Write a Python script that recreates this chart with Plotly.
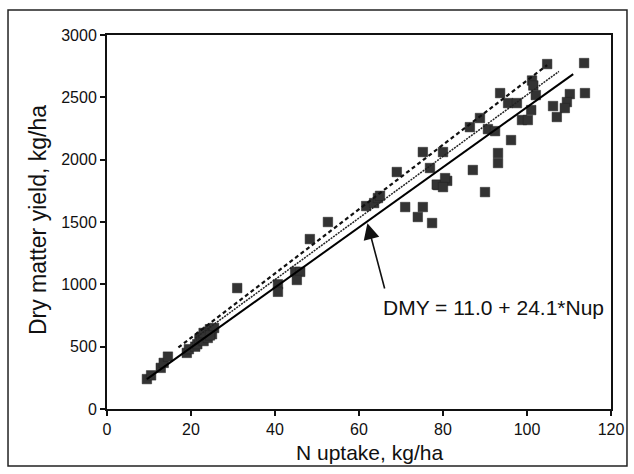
import plotly.graph_objects as go

# Observed data (N uptake kg/ha, dry matter yield kg/ha)
n_uptake = [9.5, 10.5, 12.8, 13.5, 14.5, 19.0, 19.5, 21.0,
            21.5, 22.0, 22.5, 23.0, 23.5, 24.0, 24.0, 24.5, 25.0, 25.5, 23.0, 24.5,
            31.0, 40.7, 40.7, 44.8, 46.0, 45.2, 48.3, 52.6,
            61.7, 63.6, 64.5, 65.0, 69.0, 75.2, 80.0, 76.9, 78.8, 78.5, 81.0, 80.5, 80.0,
            71.0, 75.2, 74.0, 77.4,
            104.8, 113.6, 101.2, 101.5, 93.6, 102.1, 110.2, 113.8, 95.5, 97.6, 101.0,
            106.2, 109.5, 109.0, 107.1, 98.8, 100.2, 88.8, 86.4, 90.7, 92.4, 96.2,
            93.1, 93.1, 87.1, 90.0]
dm_yield = [240, 270, 330, 370, 420, 450, 480, 500,
            520, 560, 580, 545, 600, 570, 620, 640, 600, 650, 610, 590,
            970, 1000, 940, 1100, 1100, 1035, 1363, 1500,
            1628, 1652, 1692, 1710, 1901, 2061, 2061, 1933, 1796, 1800, 1830, 1852, 1780,
            1620, 1620, 1540, 1492,
            2767, 2775, 2635, 2595, 2534, 2518, 2526, 2534, 2454, 2454, 2398,
            2430, 2462, 2414, 2342, 2318, 2318, 2334, 2261, 2245, 2229, 2157,
            2053, 1973, 1917, 1740]

# Regression lines
fit_intercept, fit_slope = 11.0, 24.1
fit_x = [9.5, 111.0]
dash_intercept, dash_slope = 55.0, 25.8
dash_x = [17.0, 104.8]
dot_intercept, dot_slope = 50.0, 24.7
dot_x = [21.0, 107.6]

x_ticks = [0, 20, 40, 60, 80, 100, 120]
y_ticks = [0, 500, 1000, 1500, 2000, 2500, 3000]

fig = go.Figure()
fig.add_trace(go.Scatter(
    x=n_uptake, y=dm_yield, mode="markers",
    marker=dict(symbol="square", size=9.5, color="#333333",
                line=dict(width=0.5, color="#222222")),
    showlegend=False, hoverinfo="skip"))
fig.add_trace(go.Scatter(
    x=dash_x, y=[dash_intercept + dash_slope * v for v in dash_x],
    mode="lines", line=dict(color="#111111", width=2.2, dash="4px,3px"),
    showlegend=False))
fig.add_trace(go.Scatter(
    x=dot_x, y=[dot_intercept + dot_slope * v for v in dot_x],
    mode="lines", line=dict(color="#222222", width=1.5, dash="2px,1px"),
    showlegend=False))
fig.add_trace(go.Scatter(
    x=fit_x, y=[fit_intercept + fit_slope * v for v in fit_x],
    mode="lines", line=dict(color="#000000", width=2),
    showlegend=False))

font_main = "Liberation Sans, Arial, Helvetica, sans-serif"

fig.add_annotation(x=62.0, y=1490, ax=66.2, ay=954, xref="x", yref="y",
                   axref="x", ayref="y", text="", showarrow=True,
                   arrowhead=2, arrowsize=2, arrowwidth=1.6, arrowcolor="#111111")
fig.add_annotation(x=92.1, y=818, xref="x", yref="y", xanchor="center", yanchor="middle",
                   text="DMY = 11.0 + 24.1*Nup", showarrow=False,
                   font=dict(family=font_main, size=21, color="#111111"))
# Axis titles
fig.add_annotation(x=0.52, y=-0.115, xref="paper", yref="paper",
                   xanchor="center", yanchor="middle",
                   text="N uptake, kg/ha", showarrow=False,
                   font=dict(family=font_main, size=21, color="#111111"))
fig.add_annotation(x=-0.137, y=0.505, xref="paper", yref="paper",
                   xanchor="center", yanchor="middle",
                   text="Dry matter yield, kg/ha", showarrow=False, textangle=-90,
                   font=dict(family=font_main, size=23, color="#111111"))

fig.update_layout(
    width=634, height=474,
    margin=dict(l=107, r=23, t=35, b=65),
    paper_bgcolor="white", plot_bgcolor="white",
    font=dict(family=font_main, color="#111111"),
    xaxis=dict(range=[0, 120], tickvals=x_ticks, ticks="outside", ticklen=5,
               tickwidth=1.5, tickcolor="#111111", showgrid=False, zeroline=False,
               showline=True, linecolor="#111111", linewidth=2, mirror=True,
               automargin=False,
               tickfont=dict(size=16, family=font_main, color="#111111")),
    yaxis=dict(range=[0, 3000], tickvals=y_ticks, ticks="outside", ticklen=5,
               tickwidth=1.5, tickcolor="#111111", showgrid=False, zeroline=False,
               showline=True, linecolor="#111111", linewidth=2, mirror=True,
               automargin=False,
               tickfont=dict(size=16, family=font_main, color="#111111")),
    shapes=[dict(type="rect", xref="paper", yref="paper",
                 x0=-0.1964, x1=1.0317, y0=-0.1524, y1=1.0668,
                 line=dict(color="#222222", width=1.5), fillcolor="rgba(0,0,0,0)",
                 layer="below")],
)

fig.write_html("out.html", config={"displayModeBar": False},
               post_script="document.body.style.margin='0px';")
